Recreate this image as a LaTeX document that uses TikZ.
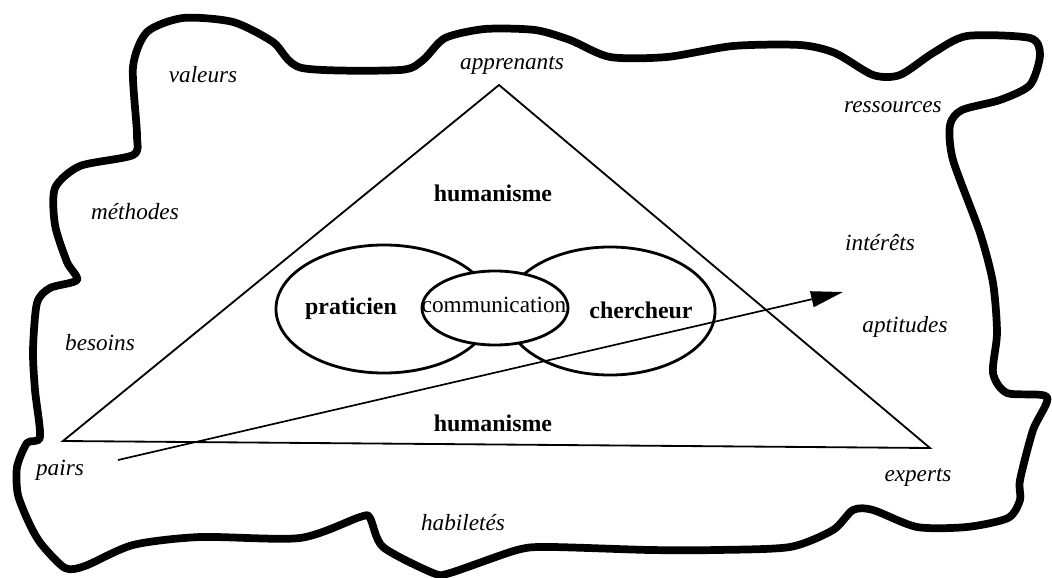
\documentclass[tikz,border=0pt]{standalone}
\usepackage{fontspec}
\setmainfont{Liberation Serif}
\usepackage{tikz}
\usetikzlibrary{shapes.geometric,arrows.meta}
\tikzstyle{contour} = [line width=5.5pt, line join=round, line cap=round]
\tikzstyle{trait} = [line width=1.3pt, line join=miter]
\tikzstyle{bulle} = [ellipse, draw=black, line width=2pt, inner sep=0pt]
\tikzstyle{mot} = [font=\fontsize{16.5}{19}\selectfont\itshape]
\tikzstyle{gras} = [font=\fontsize{17}{20}\selectfont\bfseries]

\begin{document}
\begin{tikzpicture}[x=0.025cm, y=-0.025cm]

            \useasboundingbox (0,0) rectangle (1052,578);

            %% contour

            \draw [contour] plot [smooth cycle, tension=0.45] coordinates {
                (40,437) (35,390) (33,350) (37,303) (50,288) (77,280) (67,262)
                (55,225) (55,188) (80,166) (133,155) (137,135) (133,67) (147,32)
                (183,18) (233,22) (273,42) (302,68) (400,70) (423,60) (445,38)
                (485,29) (535,30) (570,40) (610,57) (667,57) (733,46) (800,45)
                (835,53) (873,75) (900,75) (933,53) (967,36) (1030,38) (1040,55)
                (1030,85) (1000,100) (962,110) (950,125) (953,160) (980,233)
                (993,283) (997,333) (993,373) (1007,393) (1047,397) (1033,430)
                (1020,480) (1020,500) (1008,518) (967,527) (917,527) (873,510)
                (853,510) (833,530) (790,547) (717,550) (650,550) (550,547)
                (517,550) (450,573) (433,573) (383,547) (370,518) (360,517)
                (300,538) (200,537) (133,545) (85,566) (65,568)
                (42,545) (30,525) (18,495) (17,467) (27,443)};

            %% triangle

            \coordinate (sommet) at (499,85);
            \coordinate (gauche) at (63,441);
            \coordinate (droite) at (930,448);

            \draw [trait] (sommet) -- (gauche) -- (droite) -- cycle;

            %% ellipses

            \node (prat) [bulle, minimum width=5.4cm, minimum height=3.2cm] at (384,309) {};
            \node (cher) [bulle, minimum width=5.25cm, minimum height=3.2cm] at (610,311) {};
            \node (comm) [bulle, fill=white, minimum width=3.65cm, minimum height=1.85cm] at (495,308) {};

            \node [gras] at (351,309) {praticien};
            \node [gras] at (641,310) {chercheur};
            \node [font=\fontsize{16.5}{19}\selectfont] at (494,305) {communication};

            \node [gras] (hum1) at (493,193) {humanisme};
            \node [gras] (hum2) at (493,423) {humanisme};

            %% fleche

            \coordinate (depart) at (118,460);
            \coordinate (cible) at (843,292);

            \draw [line width=1.2pt, -{Triangle[length=8mm, width=4mm]}] (depart) -- (cible);

            %% mots

            \node [mot] (valeurs) at (203,75) {valeurs};
            \node [mot] (apprenants) at (512,65) {apprenants};
            \node [mot] (ressources) at (893,107) {ressources};
            \node [mot] (methodes) at (135,212) {méthodes};
            \node [mot] (interets) at (880,243) {intérêts};
            \node [mot] (besoins) at (100,343) {besoins};
            \node [mot] (aptitudes) at (905,327) {aptitudes};
            \node [mot] (pairs) at (60,470) {pairs};
            \node [mot] (experts) at (918,477) {experts};
            \node [mot] (habiletes) at (463,523) {habiletés};

        \end{tikzpicture}
\end{document}
